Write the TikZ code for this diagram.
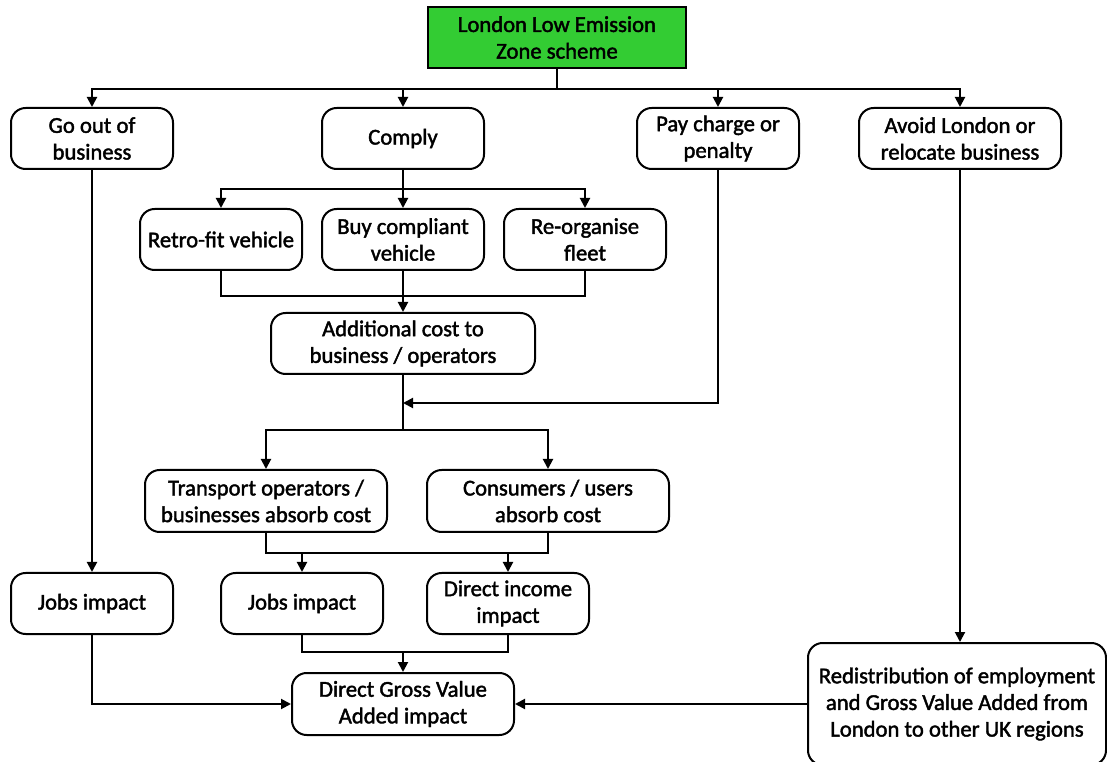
\documentclass[tikz,border=0pt]{standalone}
\usepackage{fontspec}
\setmainfont{Carlito}[FakeBold=1.8]
\usepackage{tikz}
\usetikzlibrary{arrows.meta}
\definecolor{lezgreen}{RGB}{51,204,51}

\begin{document}
\begin{tikzpicture}[x=0.75pt, y=-0.75pt, font=\fontsize{17}{20}\selectfont,
  box/.style={draw, rounded corners=11pt, line width=1.5pt, align=center,
    minimum width=121.5pt, minimum height=45.75pt, inner sep=2pt},
  topbox/.style={draw, fill=lezgreen, line width=1.5pt, align=center,
    minimum width=193.5pt, minimum height=45.75pt, inner sep=2pt},
  link/.style={line width=1.5pt},
  arr/.style={line width=1.5pt, -{Triangle[length=7.5pt, width=7.5pt]}}]
  \useasboundingbox (0,0) rectangle (1107,762);

  % scheme and first reactions
  \node[topbox] (lez) at (557,37.5) {London Low Emission\\Zone scheme};
  \node[box] (goout) at (92,138.5) {Go out of\\business};
  \node[box] (comply) at (403,138.5) {Comply};
  \node[box] (paycharge) at (718,138.5) {Pay charge or\\penalty};
  \node[box, minimum width=151.5pt] (avoid) at (960,138.5) {Avoid London or\\relocate business};

  % ways to comply
  \node[box] (retrofit) at (221,239.5) {Retro-fit vehicle};
  \node[box] (buy) at (403,239.5) {Buy compliant\\vehicle};
  \node[box] (reorg) at (585,239.5) {Re-organise\\fleet};
  \node[box, minimum width=198pt] (addcost) at (403,343.5) {Additional cost to\\business / operators};

  % who carries the cost
  \node[box, minimum width=181.5pt, minimum height=46.5pt] (transport) at (266,501) {Transport operators /\\businesses absorb cost};
  \node[box, minimum width=181.5pt, minimum height=46.5pt] (consumers) at (548,501) {Consumers / users\\absorb cost};

  % impacts
  \node[box] (jobsleft) at (92,603.5) {Jobs impact};
  \node[box] (jobsmid) at (302,603.5) {Jobs impact};
  \node[box] (income) at (508,603.5) {Direct income\\impact};
  \node[box, minimum width=166.5pt, minimum height=46.5pt] (dgva) at (403,704) {Direct Gross Value\\Added impact};
  \node[box, minimum width=223.5pt, minimum height=91.5pt] (redist) at (957,704)
    {Redistribution of employment\\and Gross Value Added from\\London to other UK regions};

  % connectors
  \path (lez.south) ++(0,20) coordinate (s1);
  \draw[link] (lez.south) -- (s1);
  \foreach \n in {goout,comply,paycharge,avoid}
    \draw[arr] (s1) -| (\n.north);

  \path (comply.south) ++(0,19) coordinate (s2);
  \draw[link] (comply.south) -- (s2);
  \foreach \n in {retrofit,buy,reorg}
    \draw[arr] (s2) -| (\n.north);

  \path (buy.south) ++(0,25) coordinate (m1);
  \draw[link] (retrofit.south) |- (m1) -| (reorg.south);
  \draw[arr] (buy.south) -- (addcost.north);

  \path (addcost.south) ++(0,28) coordinate (j1);
  \path (addcost.south) ++(0,55) coordinate (s3);
  \draw[arr] (paycharge.south) |- (j1);
  \draw[link] (addcost.south) -- (s3);
  \draw[arr] (s3) -| (transport.north);
  \draw[arr] (s3) -| (consumers.north);

  \path (transport.south) ++(0,20) coordinate (m2);
  \draw[link] (transport.south) -- (m2) -| (consumers.south);
  \draw[arr] (jobsmid.north |- m2) -- (jobsmid.north);
  \draw[arr] (income.north |- m2) -- (income.north);

  \path (dgva.north) ++(0,-20) coordinate (m3);
  \draw[link] (jobsmid.south) |- (m3) -| (income.south);
  \draw[arr] (m3) -- (dgva.north);

  \draw[arr] (goout.south) -- (jobsleft.north);
  \draw[arr] (jobsleft.south) |- (dgva.west);
  \draw[arr] (avoid.south) -- (avoid.south |- redist.north);
  \draw[arr] (redist.west) -- (dgva.east);
\end{tikzpicture}
\end{document}
